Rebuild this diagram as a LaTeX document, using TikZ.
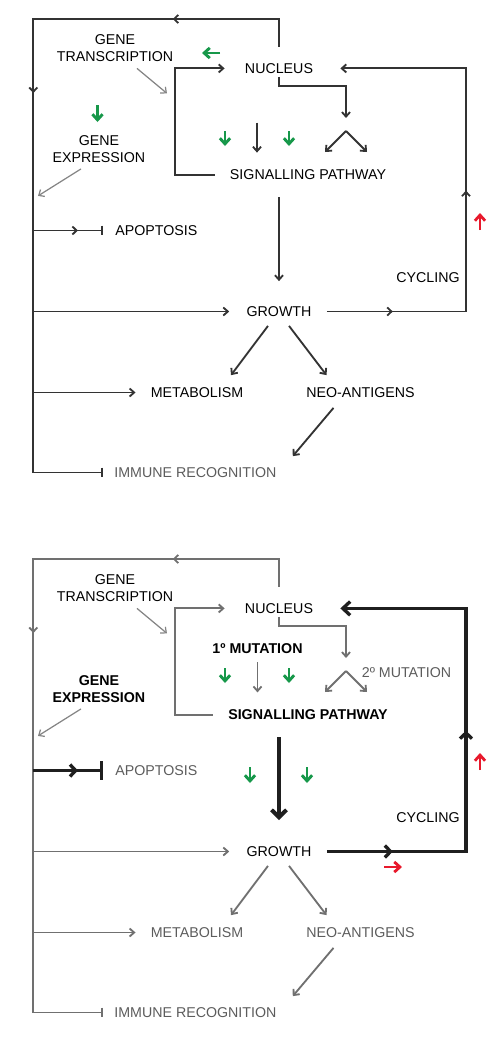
\documentclass[tikz,border=0pt]{standalone}
\usepackage{fontspec}
\setmainfont{Liberation Sans}
\usetikzlibrary{arrows.meta,calc,decorations.markings}
\definecolor{upgreen}{HTML}{17984A}
\definecolor{upred}{HTML}{E8192C}
\definecolor{darkline}{HTML}{333333}
\definecolor{greyline}{HTML}{707070}
\definecolor{greytext}{HTML}{5C5C5C}
\begin{document}
\begin{tikzpicture}[x=0.02cm, y=-0.02cm,
	>={Straight Barb[length=2.6pt,width=4.6pt]},
	txt/.style={font=\fontsize{8.1}{9.7}\selectfont, inner sep=0pt, align=center},
	boldtxt/.style={txt, font=\fontsize{8.1}{9.7}\selectfont\bfseries},
	dimtxt/.style={txt, text=greytext},
	wire/.style={line width=1.05pt, draw=darkline},
	dimwire/.style={line width=1.05pt, draw=greyline},
	faint/.style={line width=0.7pt, draw=greyline!85},
	heavy/.style={line width=1.9pt, draw=black!88},
	flow/.style={postaction={decorate, decoration={markings,
		mark=at position #1 with {\arrow{Straight Barb[length=2.4pt,width=4.6pt]}}}}},
	bigflow/.style={postaction={decorate, decoration={markings,
		mark=at position #1 with {\arrow{Straight Barb[length=3.2pt,width=6.8pt]}}}}},
	greenup/.style={line width=1.65pt, draw=upgreen, -{Straight Barb[length=3.2pt,width=5.8pt]}},
	redup/.style={line width=1.6pt, draw=upred, -{Straight Barb[length=3.2pt,width=5.8pt]}}]
	\useasboundingbox (0,0) rectangle (500,1038);

	% ---------- upper panel ----------
	\node[txt] (nucA) at (279,68.4) {NUCLEUS};
	\node[txt] (gtA) at (115,48.5) {GENE\\TRANSCRIPTION};
	\node[txt] (geA) at (99,149) {GENE\\EXPRESSION};
	\node[txt] (spA) at (308,175) {SIGNALLING PATHWAY};
	\node[txt, anchor=west] (apoA) at (115,230.5) {APOPTOSIS};
	\node[txt] (cycA) at (428,277.5) {CYCLING};
	\node[txt] (grA) at (279,311.5) {GROWTH};
	\node[txt] (metA) at (197,392.5) {METABOLISM};
	\node[txt] (neoA) at (360.5,392.5) {NEO-ANTIGENS};
	\node[dimtxt, anchor=west] (immA) at (114,472.5) {IMMUNE RECOGNITION};
	\coordinate (busA) at (33.3,19);
	\coordinate (splitA) at (346,131);

	% bus from the nucleus
	\draw[wire, flow=0.168, flow=0.436, -{Bar[width=5.5pt]}]
		($(nucA.north)+(0,-16.5)$) |- (busA) |- ($(immA.west)+(-11,0)$);
	\draw[wire, flow=0.64, -{Bar[width=5.5pt]}] (busA |- apoA.west) -- ($(apoA.west)+(-12,0)$);
	\draw[wire, ->] (busA |- grA.west) -- ($(grA.west)+(-17,0)$);
	\draw[wire, ->] (busA |- metA.west) -- ($(metA.west)+(-15,0)$);

	% inner loop
	\draw[wire, ->] ($(spA.west)+(-15,0)$) -| ($(nucA.west)+(-70,0)$) -- ($(nucA.west)+(-20,0)$);
	\draw[faint, ->] ($(gtA.south)+(22,6)$) -- ++(30,25);
	\draw[faint, ->] ($(geA.south)+(-18,6)$) -- ++(-43,27);

	% nucleus to signalling
	\draw[wire, ->] ($(nucA.south)+(0,3)$) |- ($(splitA)+(0,-45)$) -- ($(splitA)+(0,-13)$);
	\draw[wire, ->] (splitA) -- ++(-21,21);
	\draw[wire, ->] (splitA) -- ++(21,21);
	\draw[wire, ->] ($(spA.north)+(-51,-47)$) -- ++(0,30);
	\draw[wire, ->] ($(grA.north)+(0,-109)$) -- ($(grA.north)+(0,-25)$);

	% cycling loop
	\draw[wire, flow=0.13, flow=0.512, ->]
		($(grA.east)+(15,0)$) -| ($(cycA.east)+(6,0)$) |- ($(nucA.east)+(27,0)$);

	% growth outputs
	\draw[wire, ->] ($(grA.south)+(-11,9)$) -- ($(metA.north)+(34,-12)$);
	\draw[wire, ->] ($(grA.south)+(10,9)$) -- ($(neoA.north)+(-34,-12)$);
	\draw[wire, ->] ($(neoA.south)+(-27,10)$) -- ($(immA.north east)+(16,-11)$);

	% up / down marks
	\draw[greenup] (220,53) -- ++(-18,0);
	\draw[greenup] (97.5,105) -- ++(0,17);
	\draw[greenup] (225,131) -- ++(0,15);
	\draw[greenup] (289,131) -- ++(0,15);
	\draw[redup] (480,230) -- ++(0,-17);

	% ---------- lower panel ----------
	\begin{scope}[shift={(0,540)}]
	\node[txt] (nucB) at (279,68.4) {NUCLEUS};
	\node[txt] (gtB) at (115,48.5) {GENE\\TRANSCRIPTION};
	\node[boldtxt] (geB) at (99,149) {GENE\\EXPRESSION};
	\node[boldtxt] (spB) at (308,175) {SIGNALLING PATHWAY};
	\node[boldtxt] (mutB) at (257.5,109) {1º MUTATION};
	\node[dimtxt] (mutbB) at (406.5,132.5) {2º MUTATION};
	\node[dimtxt, anchor=west] (apoB) at (115,230.5) {APOPTOSIS};
	\node[txt] (cycB) at (428,277.5) {CYCLING};
	\node[txt] (grB) at (279,311.5) {GROWTH};
	\node[dimtxt] (metB) at (197,392.5) {METABOLISM};
	\node[dimtxt] (neoB) at (360.5,392.5) {NEO-ANTIGENS};
	\node[dimtxt, anchor=west] (immB) at (114,472.5) {IMMUNE RECOGNITION};
	\coordinate (busB) at (33.3,19);
	\coordinate (splitB) at (346,131);

	% bus from the nucleus
	\draw[dimwire, flow=0.168, flow=0.436, -{Bar[width=5.5pt]}]
		($(nucB.north)+(0,-16.5)$) |- (busB) |- ($(immB.west)+(-11,0)$);
	\draw[heavy, bigflow=0.64, -{Bar[width=10.5pt]}] (busB |- apoB.west) -- ($(apoB.west)+(-12,0)$);
	\draw[dimwire, ->] (busB |- grB.west) -- ($(grB.west)+(-17,0)$);
	\draw[dimwire, ->] (busB |- metB.west) -- ($(metB.west)+(-15,0)$);

	% inner loop
	\draw[dimwire, ->] ($(spB.west)+(-15,0)$) -| ($(nucB.west)+(-70,0)$) -- ($(nucB.west)+(-20,0)$);
	\draw[faint, ->] ($(gtB.south)+(22,6)$) -- ++(30,25);
	\draw[faint, ->] ($(geB.south)+(-18,6)$) -- ++(-43,27);

	% nucleus to signalling
	\draw[dimwire, ->] ($(nucB.south)+(0,3)$) |- ($(splitB)+(0,-45)$) -- ($(splitB)+(0,-13)$);
	\draw[dimwire, ->] (splitB) -- ++(-21,21);
	\draw[dimwire, ->] (splitB) -- ++(21,21);
	\draw[dimwire, ->] ($(mutB.south)+(0,8)$) -- ++(0,30);
	\draw[heavy, line width=2.3pt, -{Straight Barb[length=4.2pt,width=8.5pt]}]
		($(grB.north)+(0,-109)$) -- ($(grB.north)+(0,-26)$);

	% cycling loop
	\draw[heavy, bigflow=0.13, bigflow=0.512, -{Straight Barb[length=4.2pt,width=7.8pt]}]
		($(grB.east)+(15,0)$) -| ($(cycB.east)+(6,0)$) |- ($(nucB.east)+(27,0)$);

	% growth outputs
	\draw[dimwire, ->] ($(grB.south)+(-11,9)$) -- ($(metB.north)+(34,-12)$);
	\draw[dimwire, ->] ($(grB.south)+(10,9)$) -- ($(neoB.north)+(-34,-12)$);
	\draw[dimwire, ->] ($(neoB.south)+(-27,10)$) -- ($(immB.north east)+(16,-11)$);

	% up / down marks
	\draw[greenup] (225,128) -- ++(0,15);
	\draw[greenup] (289,128) -- ++(0,15);
	\draw[greenup] (250,227) -- ++(0,16);
	\draw[greenup] (307,227) -- ++(0,16);
	\draw[redup] (480,230) -- ++(0,-17);
	\draw[redup] (384,327) -- ++(18,0);
	\end{scope}
\end{tikzpicture}
\end{document}
